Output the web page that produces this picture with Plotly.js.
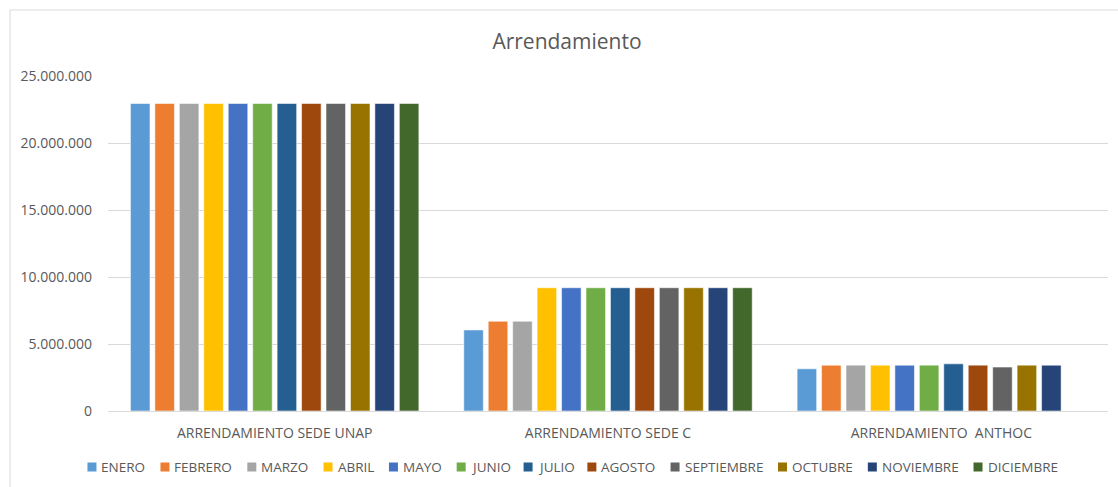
<!DOCTYPE html>
<html>
<head>
<meta charset="utf-8">
<script src="https://cdn.plot.ly/plotly-3.0.1.min.js"></script>
<style>html,body{margin:0;padding:0;background:#fff;}#chart{width:1118px;height:487px;}</style>
</head>
<body>
<div id="chart"></div>
<script>
const categories = ["ARRENDAMIENTO SEDE UNAP", "ARRENDAMIENTO SEDE C", "ARRENDAMIENTO  ANTHOC"];
const months = ["ENERO","FEBRERO","MARZO","ABRIL","MAYO","JUNIO","JULIO","AGOSTO","SEPTIEMBRE","OCTUBRE","NOVIEMBRE","DICIEMBRE"];
const enero      = [22950000, 6050000, 3150000];
const febrero    = [22950000, 6700000, 3420000];
const marzo      = [22950000, 6700000, 3420000];
const abril      = [22950000, 9200000, 3420000];
const mayo       = [22950000, 9200000, 3420000];
const junio      = [22950000, 9200000, 3420000];
const julio      = [22950000, 9200000, 3520000];
const agosto     = [22950000, 9200000, 3420000];
const septiembre = [22950000, 9200000, 3280000];
const octubre    = [22950000, 9200000, 3420000];
const noviembre  = [22950000, 9200000, 3420000];
const diciembre  = [22950000, 9200000, null];
const seriesValues = [enero, febrero, marzo, abril, mayo, junio, julio, agosto, septiembre, octubre, noviembre, diciembre];
const colors = ["#5B9BD5","#ED7D31","#A5A5A5","#FFC000","#4472C4","#70AD47","#255E91","#9E480E","#636363","#997300","#264478","#43682B"];

const font = "'Open Sans', 'Noto Sans', sans-serif";
const W = 1118, H = 487;
const M = {l: 108, r: 10, t: 76, b: 76};
const plotW = W - M.l - M.r, plotH = H - M.t - M.b;
const px2x = px => (px - M.l) / plotW;
const py2y = py => (H - M.b - py) / plotH;

const traces = months.map((m, i) => ({
  type: "bar",
  name: m,
  x: categories,
  y: seriesValues[i],
  marker: {color: colors[i], line: {color: "rgba(255,255,255,0.55)", width: 1}},
  showlegend: false
}));

// custom single-row legend (Excel-like compact spacing)
const legendFontSize = 13.5;
const ctx = document.createElement("canvas").getContext("2d");
ctx.font = legendFontSize + "px 'Open Sans'";
const sym = 9, symGap = 4, itemGap = 16;
const widths = months.map(m => ctx.measureText(m).width);
const total = widths.reduce((a, w) => a + sym + symGap + w, 0) + itemGap * (months.length - 1);
let cx = 572 - total / 2;
const legY = 467;
const shapes = [
  {type: "line", xref: "paper", yref: "paper", x0: px2x(10), x1: px2x(1130), y0: py2y(10), y1: py2y(10), line: {color: "#d9d9d9", width: 1}},
  {type: "line", xref: "paper", yref: "paper", x0: px2x(10), x1: px2x(10), y0: py2y(10), y1: py2y(500), line: {color: "#d9d9d9", width: 1}}
];
const annotations = [];
months.forEach((m, i) => {
  shapes.push({type: "rect", xref: "paper", yref: "paper",
    x0: px2x(cx), x1: px2x(cx + sym), y0: py2y(legY - sym / 2), y1: py2y(legY + sym / 2),
    fillcolor: colors[i], line: {width: 0}});
  annotations.push({xref: "paper", yref: "paper", x: px2x(cx + sym + symGap), y: py2y(legY),
    xanchor: "left", yanchor: "middle", showarrow: false, text: m,
    font: {family: font, size: legendFontSize, color: "#595959"}, borderpad: 0});
  cx += sym + symGap + widths[i] + itemGap;
});

const layout = {
  width: W, height: H,
  margin: M,
  paper_bgcolor: "#fff", plot_bgcolor: "#fff",
  separators: ",.",
  font: {family: font, size: 13, color: "#595959"},
  title: {text: "Arrendamiento", font: {family: font, size: 21, color: "#595959"}, x: 567 / W, xanchor: "center", y: 1 - 42 / H, yanchor: "middle"},
  barmode: "group",
  bargap: 0.12,
  bargroupgap: 0.2,
  xaxis: {
    showgrid: false, showline: true, linecolor: "#d9d9d9", linewidth: 1,
    ticks: "", ticklabelstandoff: 9, tickfont: {family: font, size: 14, color: "#595959"},
    zeroline: false, automargin: false
  },
  yaxis: {
    range: [0, 25000000], dtick: 5000000, tickformat: ",d",
    showgrid: true, gridcolor: "#d9d9d9", gridwidth: 1,
    zeroline: false, showline: false, ticks: "",
    ticklabelstandoff: 15, automargin: false,
    tickfont: {family: font, size: 14, color: "#595959"}
  },
  shapes: shapes,
  annotations: annotations,
  showlegend: false
};

Plotly.newPlot("chart", traces, layout, {displayModeBar: false, staticPlot: true});
</script>
</body>
</html>
